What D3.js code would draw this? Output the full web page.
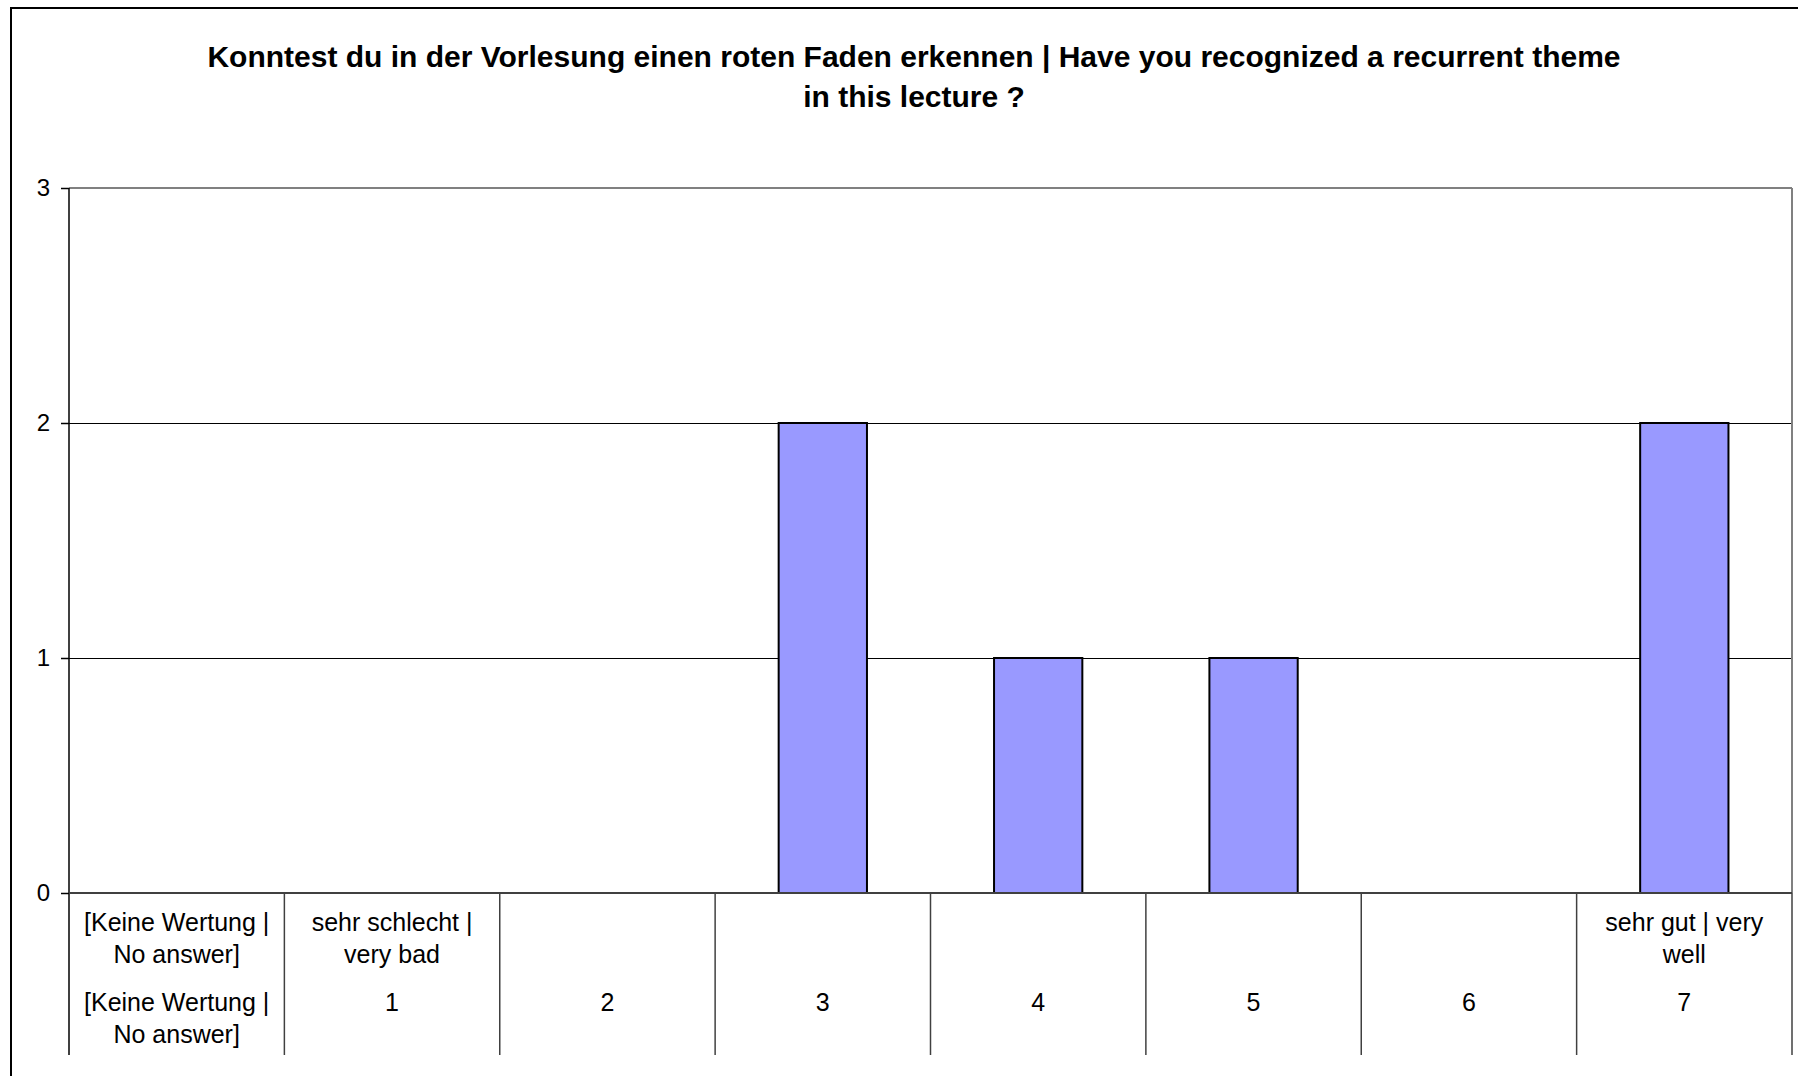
<!DOCTYPE html>
<html>
<head>
<meta charset="utf-8">
<script src="https://cdn.jsdelivr.net/npm/d3@7"></script>
<style>
  html, body { margin: 0; padding: 0; background: #fff; }
  svg { display: block; }
  text { font-family: "Liberation Sans", Arial, sans-serif; fill: #000; }
</style>
</head>
<body>
<svg id="chart" width="1798" height="1076"></svg>
<script>
const titleText = "Konntest du in der Vorlesung einen roten Faden erkennen | Have you recognized a recurrent theme in this lecture ?";
const categories = ["[Keine Wertung | No answer]", "1", "2", "3", "4", "5", "6", "7"];
const scaleLabels = ["[Keine Wertung | No answer]", "sehr schlecht | very bad", "", "", "", "", "", "sehr gut | very well"];
const values = [0, 0, 0, 2, 1, 1, 0, 2];
const yTicks = [0, 1, 2, 3];

const svg = d3.select("#chart");
const plot = { left: 69, right: 1792, top: 188, bottom: 893 };

// outer frame
svg.append("rect").attr("x", 11).attr("y", 8).attr("width", 1820).attr("height", 1100)
  .attr("fill", "#fff").attr("stroke", "#000").attr("stroke-width", 2);

const x = d3.scaleBand().domain(d3.range(categories.length)).range([plot.left, plot.right]).padding(0);
const y = d3.scaleLinear().domain([0, 3]).range([plot.bottom, plot.top]);

function wrap(textSel, maxWidth, lineHeight) {
  textSel.each(function () {
    const t = d3.select(this);
    const words = t.text().split(/\s+/).filter(w => w.length);
    const xPos = t.attr("x");
    const y0 = +t.attr("y");
    t.text(null);
    let line = [];
    let lineNo = 0;
    let tspan = t.append("tspan").attr("x", xPos).attr("y", y0);
    for (const w of words) {
      line.push(w);
      tspan.text(line.join(" "));
      if (tspan.node().getComputedTextLength() > maxWidth && line.length > 1) {
        line.pop();
        tspan.text(line.join(" "));
        line = [w];
        lineNo++;
        tspan = t.append("tspan").attr("x", xPos).attr("y", y0 + lineNo * lineHeight).text(w);
      }
    }
  });
}

// title
svg.append("text").attr("x", 914).attr("y", 67).attr("text-anchor", "middle")
  .style("font-size", "30px").style("font-weight", "bold").text(titleText)
  .call(wrap, 1425, 40);

// gridlines
svg.append("g").selectAll("line").data(yTicks.filter(d => d > 0 && d < 3)).join("line")
  .attr("x1", plot.left).attr("x2", plot.right)
  .attr("y1", d => Math.round(y(d)) + 0.5).attr("y2", d => Math.round(y(d)) + 0.5)
  .attr("stroke", "#000").attr("stroke-width", 1.5)
  .attr("shape-rendering", "crispEdges");

// plot area top / right border
svg.append("line").attr("x1", plot.left).attr("x2", plot.right).attr("y1", y(3)).attr("y2", y(3))
  .attr("stroke", "#808080").attr("stroke-width", 2);
svg.append("line").attr("x1", plot.right).attr("x2", plot.right).attr("y1", y(3)).attr("y2", plot.bottom)
  .attr("stroke", "#808080").attr("stroke-width", 2);

// bars
const barFrac = 0.41;
svg.append("g").selectAll("rect").data(values).join("rect")
  .attr("x", (d, i) => x(i) + x.bandwidth() * (1 - barFrac) / 2)
  .attr("width", x.bandwidth() * barFrac)
  .attr("y", d => y(d))
  .attr("height", d => y(0) - y(d))
  .attr("fill", "#9999FF")
  .attr("stroke", "#000").attr("stroke-width", 2)
  .style("display", d => d > 0 ? null : "none");

// y axis
const yAxis = d3.axisLeft(y).tickValues(yTicks).tickFormat(d3.format("d")).tickSize(8).tickPadding(11);
const gy = svg.append("g").attr("transform", `translate(${plot.left},0)`).call(yAxis);
gy.select(".domain").remove();
gy.selectAll(".tick line").attr("stroke", "#000").attr("stroke-width", 1.5);
gy.selectAll(".tick text").style("font-size", "24px").style("font-family", "'Liberation Sans', Arial, sans-serif").attr("fill", "#000");
svg.append("line").attr("x1", plot.left).attr("x2", plot.left).attr("y1", plot.top).attr("y2", 1055)
  .attr("stroke", "#000").attr("stroke-width", 1.5);

// x axis line
svg.append("line").attr("x1", plot.left).attr("x2", plot.right).attr("y1", y(0)).attr("y2", y(0))
  .attr("stroke", "#404040").attr("stroke-width", 2);

// category dividers
const bounds = d3.range(1, categories.length + 1).map(i => i < categories.length ? x(i) : x(i - 1) + x.bandwidth());
svg.append("g").selectAll("line").data(bounds).join("line")
  .attr("x1", d => d).attr("x2", d => d).attr("y1", y(0)).attr("y2", 1055)
  .attr("stroke", "#404040").attr("stroke-width", 1.5);

// category labels, two rows
svg.append("g").selectAll("text").data(scaleLabels).join("text")
  .attr("x", (d, i) => x(i) + x.bandwidth() / 2).attr("y", 931)
  .attr("text-anchor", "middle").style("font-size", "25px").text(d => d)
  .call(wrap, 200, 32);

svg.append("g").selectAll("text").data(categories).join("text")
  .attr("x", (d, i) => x(i) + x.bandwidth() / 2).attr("y", 1011)
  .attr("text-anchor", "middle").style("font-size", "25px").text(d => d)
  .call(wrap, 200, 32);
</script>
</body>
</html>
